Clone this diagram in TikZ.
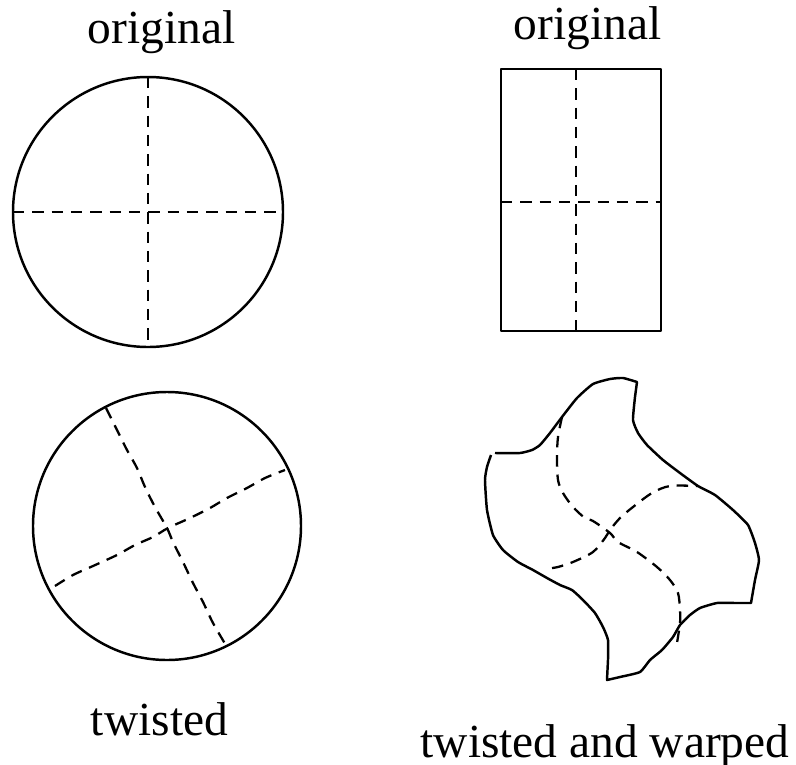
\documentclass[tikz,border=0pt]{standalone}
\usepackage{fontspec}
\setmainfont{Liberation Serif}
\usepackage{tikz}

\begin{document}
\begin{tikzpicture}[x=0.02cm,y=-0.02cm,
  outline/.style={draw,line width=1.4pt,line join=round},
  fold/.style={draw,line width=1.3pt,dash pattern=on 6.5pt off 4.5pt},
  lbl/.style={anchor=base,inner sep=0pt,font=\fontsize{27}{32}\selectfont}]
  \useasboundingbox (0,0) rectangle (796,765);
  % labels
  \node[lbl] (origA) at (161.5,43) {original};
  \node[lbl] (origB) at (587.5,39) {original};
  \node[lbl] (twist) at (159.5,735) {twisted};
  \node[lbl] (warp) at (605,757) {twisted and warped};
  % original disc
  \draw[outline] (148,212) circle (135);
  \draw[fold] (148,77) -- (148,347);
  \draw[fold] (13,212) -- (283,212);
  % original rectangle
  \draw[outline] (501,69) rectangle (661,331);
  \draw[fold] (576,69) -- (576,333);
  \draw[fold] (501,202) -- (661,202);
  % twisted disc
  \draw[outline] (167,526) circle (134);
  \draw[fold] plot[smooth] coordinates {(106,408) (117,430) (127,450) (137,468) (145,487)
    (155,507) (167,528) (173,542) (183,562) (193,583) (203,602) (213,623) (227,647)};
  \draw[fold] plot[smooth] coordinates {(55,586) (73,575) (93,566) (117,555) (135,545)
    (153,537) (168,528) (190,518) (210,508) (227,498) (247,488) (265,478) (285,470)};
  % twisted and warped sheet
  \draw[outline] plot[smooth,tension=0.3] coordinates {(495,453) (520,453) (532,450) (540,445)
    (550,433) (562,417) (577,398) (593,384) (610,379) (623,378) (637,382)}
    -- plot[smooth,tension=0.3] coordinates {(635,397) (633,420) (638,433) (647,445) (663,460)
    (680,473) (698,486) (715,495) (733,510) (748,525) (755,543) (759,560) (755,580) (751,603)}
    -- plot[smooth,tension=0.3] coordinates {(735,603) (717,603) (700,608) (690,615) (680,625)
    (673,637) (662,650) (650,660) (640,672) (620,677) (607,680)}
    -- plot[smooth,tension=0.3] coordinates {(608,660) (608,640) (603,627) (595,613) (583,600)
    (572,590) (560,585) (547,578) (533,570) (518,562) (503,550) (493,535) (487,510)
    (485,480) (487,467) (491,455)};
  \draw[fold] plot[smooth] coordinates {(562,417) (558,437) (557,457) (558,480) (563,493)
    (573,507) (585,518) (593,521) (610,533) (618,542) (637,552) (657,567) (670,580)
    (678,593) (680,610) (680,623) (677,643)};
  \draw[fold] plot[smooth] coordinates {(552,568) (558,567) (573,562) (593,552) (605,538)
    (610,530) (620,518) (633,507) (652,493) (670,486) (698,486)};
\end{tikzpicture}
\end{document}
